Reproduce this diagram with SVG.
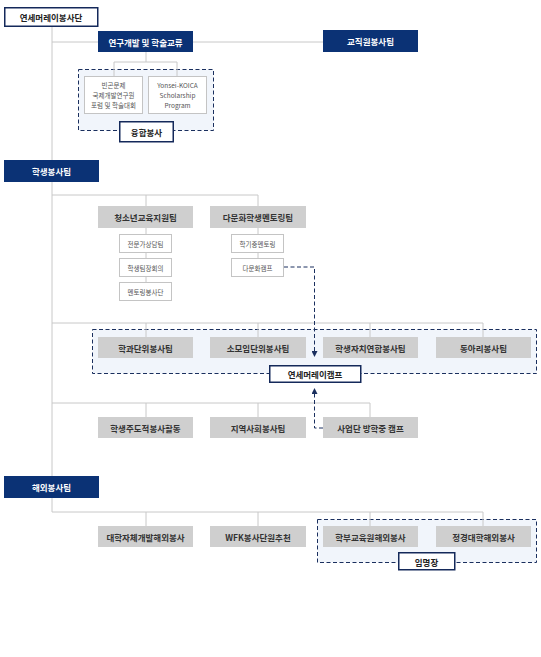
<svg xmlns="http://www.w3.org/2000/svg" width="541" height="657" viewBox="0 0 541 657">
<style>
text{font-family:"Noto Sans CJK KR","Noto Sans",sans-serif;text-anchor:middle;dominant-baseline:central}
.navy{fill:#0b3275}
.nt{fill:#fff;font-size:8.5px;font-weight:bold}
.gray{fill:#cfcfcf}
.gt{fill:#333;font-size:8.5px;font-weight:bold}
.sm{fill:#fff;stroke:#c4c4c4;stroke-width:1}
.st{fill:#555;font-size:6.5px}
.wb{fill:#fff;stroke:#14295a;stroke-width:1.5}
.wt{fill:#222;font-size:8.5px;font-weight:bold}
.ln{fill:none;stroke:#c8c8c8;stroke-width:1}
.dash{fill:#f1f5fb;stroke:#1a2f5e;stroke-width:1;stroke-dasharray:4 2.5}
.dl{fill:none;stroke:#1a2f5e;stroke-width:1;stroke-dasharray:4 2.5}
</style>
<defs>
<marker id="ah" viewBox="0 0 6 6" refX="5" refY="3" markerWidth="6" markerHeight="6" orient="auto" markerUnits="userSpaceOnUse">
<path d="M0,0 L6,3 L0,6 z" fill="#1a2f5e"/>
</marker>
</defs>
<rect width="541" height="657" fill="#fff"/>

<g id="groups">
<rect class="dash" x="78.5" y="69.5" width="135" height="61"/>
<rect class="dash" x="92.5" y="329.5" width="444" height="44"/>
<rect class="dash" x="317.5" y="519.5" width="219" height="43"/>
</g>

<g id="connectors">
<path class="ln" d="M52,26 V512"/>
<path class="ln" d="M52,42 H323"/>
<path class="ln" d="M146,52 V62 M114,76 V62 H177 V76"/>
<path class="ln" d="M52,195 H258 M146,195 V206 M258,195 V206"/>
<path class="ln" d="M146,228 V282 M258,228 V258"/>
<path class="ln" d="M52,323 H483 M146,323 V337 M258,323 V337 M370,323 V337 M483,323 V337"/>
<path class="ln" d="M52,403 H370 M146,403 V417 M258,403 V417 M370,403 V417"/>
<path class="ln" d="M52,512 H483 M146,512 V526 M258,512 V526 M370,512 V526 M483,512 V526"/>
<path class="dl" d="M284,267 H314.5 V356" marker-end="url(#ah)"/>
<path class="dl" d="M323,428 H314.5 V389" marker-end="url(#ah)"/>
</g>

<g id="n-root"><rect class="wb" x="4.75" y="7.75" width="93" height="18.5"/><text class="wt" x="51" y="17">연세머레이봉사단</text></g>
<g id="n-research"><rect class="navy" x="98" y="31" width="95" height="21"/><text class="nt" x="145.5" y="41.5">연구개발 및 학술교류</text></g>
<g id="n-staff"><rect class="navy" x="323" y="30" width="95" height="22"/><text class="nt" x="370.5" y="41">교직원봉사팀</text></g>
<g id="n-poverty"><rect class="sm" x="84.5" y="76.5" width="58" height="37"/><text class="st" x="113.5" y="85">빈곤문제</text><text class="st" x="113.5" y="95">국제개발연구원</text><text class="st" x="113.5" y="105">포럼 및 학술대회</text></g>
<g id="n-koica"><rect class="sm" x="148.5" y="76.5" width="58" height="37"/><text class="st" x="177.5" y="85">Yonsei-KOICA</text><text class="st" x="177.5" y="95">Scholarship</text><text class="st" x="177.5" y="105">Program</text></g>
<g id="n-fusion"><rect class="wb" x="119.75" y="121.75" width="53.5" height="20"/><text class="wt" x="146.5" y="131.5">융합봉사</text></g>

<g id="n-student"><rect class="navy" x="4" y="160" width="95" height="22"/><text class="nt" x="51.5" y="171">학생봉사팀</text></g>
<g id="n-youth"><rect class="gray" x="98" y="206" width="95" height="22"/><text class="gt" x="145.5" y="217">청소년교육지원팀</text></g>
<g id="n-multi"><rect class="gray" x="210" y="206" width="96" height="22"/><text class="gt" x="258" y="217">다문화학생멘토링팀</text></g>
<g id="n-expert"><rect class="sm" x="119.5" y="234.5" width="52" height="18"/><text class="st" x="145.5" y="243.5">전문가상담팀</text></g>
<g id="n-leader"><rect class="sm" x="119.5" y="258.5" width="52" height="18"/><text class="st" x="145.5" y="267.5">학생팀장회의</text></g>
<g id="n-mentor"><rect class="sm" x="119.5" y="282.5" width="52" height="18"/><text class="st" x="145.5" y="291.5">멘토링봉사단</text></g>
<g id="n-semester"><rect class="sm" x="231.5" y="234.5" width="52" height="18"/><text class="st" x="257.5" y="243.5">학기중멘토링</text></g>
<g id="n-mcamp"><rect class="sm" x="231.5" y="258.5" width="52" height="18"/><text class="st" x="257.5" y="267.5">다문화캠프</text></g>

<g id="n-dept"><rect class="gray" x="98" y="337" width="95" height="21"/><text class="gt" x="145.5" y="347.5">학과단위봉사팀</text></g>
<g id="n-small"><rect class="gray" x="210" y="337" width="96" height="21"/><text class="gt" x="258" y="347.5">소모임단위봉사팀</text></g>
<g id="n-council"><rect class="gray" x="323" y="337" width="95" height="21"/><text class="gt" x="370.5" y="347.5">학생자치연합봉사팀</text></g>
<g id="n-club"><rect class="gray" x="436" y="337" width="95" height="21"/><text class="gt" x="483.5" y="347.5">동아리봉사팀</text></g>
<g id="n-camp"><rect class="wb" x="269.75" y="365.75" width="91" height="16.5"/><text class="wt" x="315" y="374">연세머레이캠프</text></g>

<g id="n-led"><rect class="gray" x="98" y="417" width="95" height="21"/><text class="gt" x="145.5" y="427.5">학생주도적봉사활동</text></g>
<g id="n-community"><rect class="gray" x="210" y="417" width="96" height="21"/><text class="gt" x="258" y="427.5">지역사회봉사팀</text></g>
<g id="n-vacation"><rect class="gray" x="323" y="417" width="95" height="21"/><text class="gt" x="370.5" y="427.5">사업단 방학중 캠프</text></g>

<g id="n-overseas"><rect class="navy" x="4" y="476" width="95" height="22"/><text class="nt" x="51.5" y="487">해외봉사팀</text></g>
<g id="n-univ"><rect class="gray" x="98" y="526" width="95" height="21"/><text class="gt" x="145.5" y="536.5">대학자체개발해외봉사</text></g>
<g id="n-wfk"><rect class="gray" x="210" y="526" width="96" height="21"/><text class="gt" x="258" y="536.5">WFK봉사단원추천</text></g>
<g id="n-undergrad"><rect class="gray" x="323" y="526" width="95" height="21"/><text class="gt" x="370.5" y="536.5">학부교육원해외봉사</text></g>
<g id="n-pol"><rect class="gray" x="436" y="526" width="95" height="21"/><text class="gt" x="483.5" y="536.5">정경대학해외봉사</text></g>
<g id="n-appoint"><rect class="wb" x="398.75" y="552.75" width="56" height="17"/><text class="wt" x="426.5" y="561.5">임명장</text></g>
</svg>
